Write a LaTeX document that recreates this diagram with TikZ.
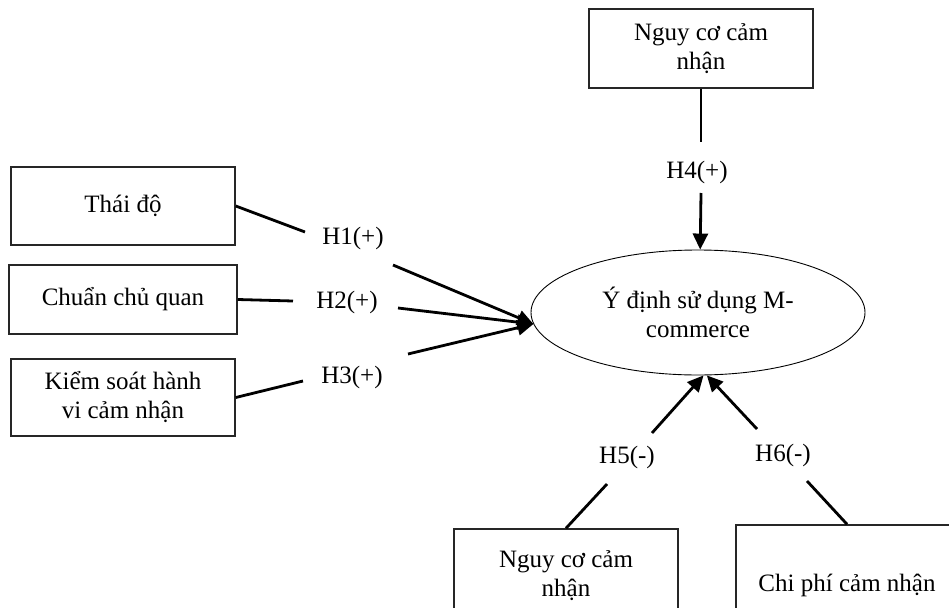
\documentclass[tikz,border=0pt]{standalone}
\usepackage{fontspec}
\setmainfont{Liberation Serif}
\usetikzlibrary{arrows.meta,shapes.geometric}
\begin{document}
\begin{tikzpicture}[x=1pt,y=-1pt,
  txt/.style={font=\fontsize{25}{29}\selectfont},
  box/.style={txt,draw=black!85,line width=1.5pt,fill=white,minimum width=224pt,inner sep=0pt,align=center},
  lbl/.style={txt,inner sep=0pt},
  link/.style={line width=2.8pt},
  arr/.style={line width=2.8pt,-{Triangle[length=16pt,width=15pt]}}]
\path[use as bounding box, clip] (0,0) rectangle (949,607);
\fill[white] (0,0) rectangle (949,607);

% boxes
\node[box,minimum height=79pt] (top) at (701,48.5) {Nguy cơ cảm\\nhận};
\node[box,minimum height=78pt] (thai) at (123,206) {Thái độ};
\node[box,minimum width=228pt,minimum height=69pt] (chuan) at (123,299.5) {Chuẩn chủ quan};
\node[box,minimum height=77pt] (kiem) at (123,397.5) {Kiểm soát hành\\vi cảm nhận};
\node[box,minimum height=94pt] (nguy) at (566,576) {Nguy cơ cảm\\nhận};
\node[box,minimum width=222pt,minimum height=120pt] (chi) at (847,585) {Chi phí cảm nhận};

% central ellipse
\node[txt,ellipse,draw,line width=0.9pt,minimum width=334pt,minimum height=125pt,inner sep=0pt,align=center] (ell) at (698,312.5) {Ý định sử dụng M-\\commerce};

% labels
\node[lbl] (h1) at (353,238) {H1(+)};
\node[lbl] (h2) at (347,302) {H2(+)};
\node[lbl] (h3) at (352,377) {H3(+)};
\node[lbl] (h4) at (697,172) {H4(+)};
\node[lbl] (h5) at (627,457) {H5(-)};
\node[lbl] (h6) at (783,455) {H6(-)};

% gap ends of the connectors
\coordinate (h1a) at (305,232); \coordinate (h1b) at (393,265);
\coordinate (h2a) at (293,301); \coordinate (h2b) at (398,308);
\coordinate (h3a) at (303,381); \coordinate (h3b) at (408,354);
\coordinate (h4a) at (701,142); \coordinate (h4b) at (701,193);
\coordinate (h5a) at (607,484); \coordinate (h5b) at (652,433);
\coordinate (h6a) at (807,481); \coordinate (h6b) at (757,429);

% connectors
\draw[link] (thai.east) -- (h1a);  \draw[arr] (h1b) -- (ell.184);
\draw[link] (chuan.east) -- (h2a); \draw[arr] (h2b) -- (ell.184);
\draw[link] (kiem.east) -- (h3a);  \draw[arr] (h3b) -- (ell.184);
\draw[link] (top.south) -- (h4a);  \draw[arr] (h4b) -- (ell.88);
\draw[link] (nguy.north) -- (h5a); \draw[arr] (h5b) -- (ell.-85);
\draw[link] (chi.north) -- (h6a);  \draw[arr] (h6b) -- (ell.-82);
\end{tikzpicture}
\end{document}
